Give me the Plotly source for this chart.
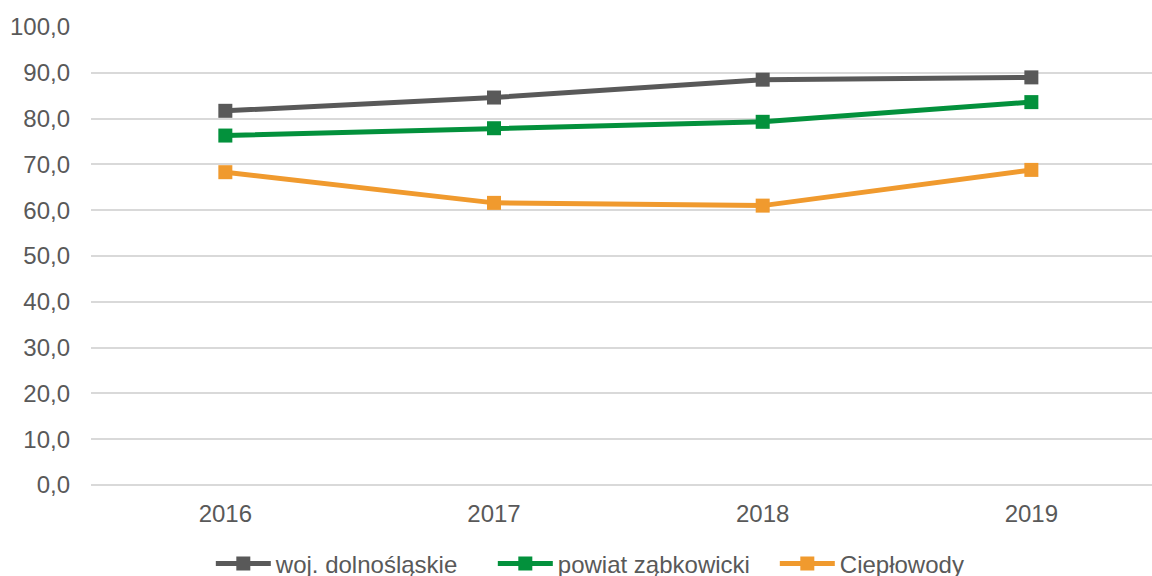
import plotly.graph_objects as go

years = ["2016", "2017", "2018", "2019"]
woj = [81.7, 84.6, 88.5, 89.0]
powiat = [76.3, 77.9, 79.3, 83.6]
cieplowody = [68.3, 61.6, 61.0, 68.8]

series = [
    ("woj. dolnośląskie", woj, "#595959"),
    ("powiat ząbkowicki", powiat, "#03913C"),
    ("Ciepłowody", cieplowody, "#F09A2E"),
]

fig = go.Figure()
for name, vals, color in series:
    fig.add_trace(go.Scatter(
        x=years, y=vals, name=name, mode="lines+markers",
        line=dict(color=color, width=5),
        marker=dict(symbol="square", size=14, color=color),
    ))

font = dict(family="Liberation Sans, Arial, sans-serif", size=24, color="#595959")
fig.update_layout(
    width=1152, height=576,
    margin=dict(l=91, r=0, t=27, b=91),
    paper_bgcolor="white", plot_bgcolor="white",
    font=font,
    showlegend=True,
    legend=dict(orientation="h", xref="container", yref="container",
                x=0.183, xanchor="left", y=0.021, yanchor="middle",
                itemwidth=55, entrywidth=212, font=font, tracegroupgap=0,
                bgcolor="rgba(0,0,0,0)"),
    xaxis=dict(type="category", range=[-0.5, 3.449], showgrid=False, ticks="",
               showline=False, zeroline=False, tickfont=font, automargin=False,
               ticklabelstandoff=12),
    yaxis=dict(range=[0, 100], dtick=10, tickformat=".1f",
               showgrid=True, gridcolor="#D9D9D9", gridwidth=1.5,
               zeroline=True, zerolinecolor="#D9D9D9", zerolinewidth=1.5,
               showline=False, ticks="", tickfont=font, automargin=False,
               ticklabelstandoff=20),
    separators=",.",
)
fig.write_html("out.html", post_script="document.body.style.margin='0';",
               config={"displayModeBar": False})
